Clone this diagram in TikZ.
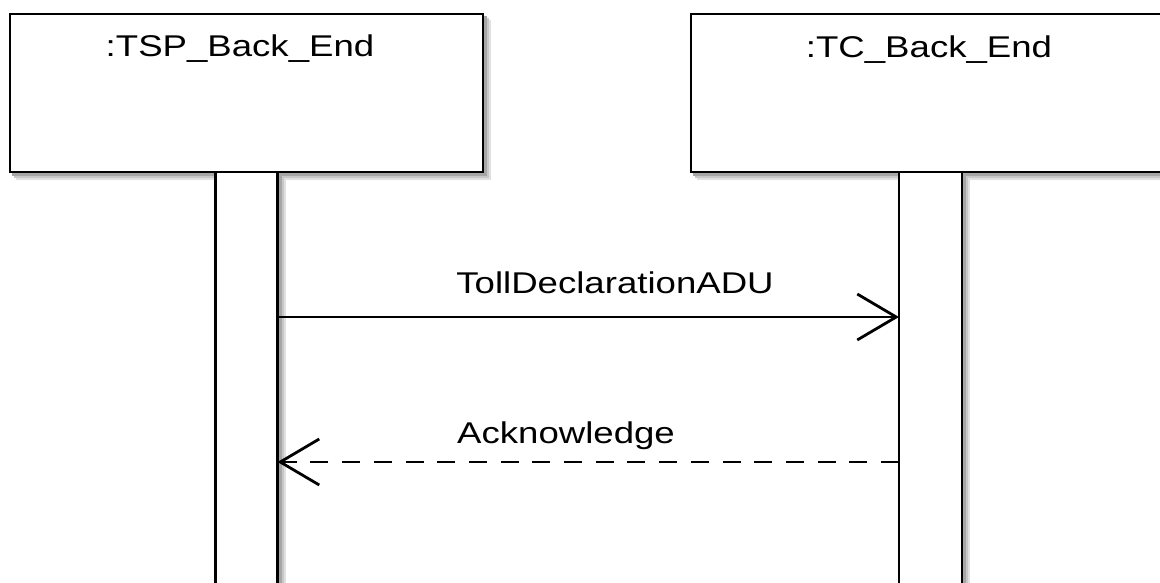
\documentclass[tikz,border=0pt]{standalone}
\usepackage{fontspec}
\setmainfont{Liberation Sans}
\usetikzlibrary{arrows.meta}
\begin{document}
\begin{tikzpicture}[x=1pt,y=-1pt,
  softshadow/.style={
    preaction={fill=black!12,draw=black!12,line width=2.8pt,transform canvas={xshift=7pt,yshift=-7pt}},
    preaction={fill=black!22,draw=black!22,line width=2.8pt,transform canvas={xshift=5pt,yshift=-5pt}},
    preaction={fill=black!35,draw=black!35,line width=2.8pt,transform canvas={xshift=3pt,yshift=-3pt}}},
  headbox/.style={softshadow,draw=black,fill=white,line width=2.8pt,
    minimum height=158pt,inner sep=0pt,outer sep=0pt},
  actbar/.style={softshadow,draw=black,fill=white,line width=2.8pt,
    minimum height=430pt,inner sep=0pt,outer sep=0pt},
  txt/.style={font=\fontsize{30}{36}\selectfont,xscale=1.22,anchor=base,inner sep=0pt},
  msg/.style={line width=2.8pt,-{Straight Barb[length=39pt,width=46pt]}},
  reply/.style={msg,dash pattern=on 18pt off 13.7pt}
]
\clip (0,0) rectangle (1160,583);
\fill[white] (0,0) rectangle (1160,583);

% lifeline heads
\node[headbox,minimum width=473pt] (tsp) at (246.5,93) {};
\node[headbox,minimum width=476pt] (tc) at (929,93) {};
\node[txt] (tsplbl) at (240,57) {:TSP\_Back\_End};
\node[txt] (tclbl) at (929,58) {:TC\_Back\_End};

% activation bars
\node[actbar,minimum width=62pt,anchor=north] (tspbar) at (tsp.south) {};
\node[actbar,minimum width=63pt,anchor=north] (tcbar) at (930.5,172) {};

% messages
\coordinate (y1) at (0,317);
\coordinate (y2) at (0,462);
\draw[msg] (tspbar.east |- y1) -- (tcbar.west |- y1);
\node[txt] (m1) at (615,293) {TollDeclarationADU};
\draw[reply] (tcbar.west |- y2) -- (tspbar.east |- y2);
\node[txt] (m2) at (566,443) {Acknowledge};
\end{tikzpicture}
\end{document}
